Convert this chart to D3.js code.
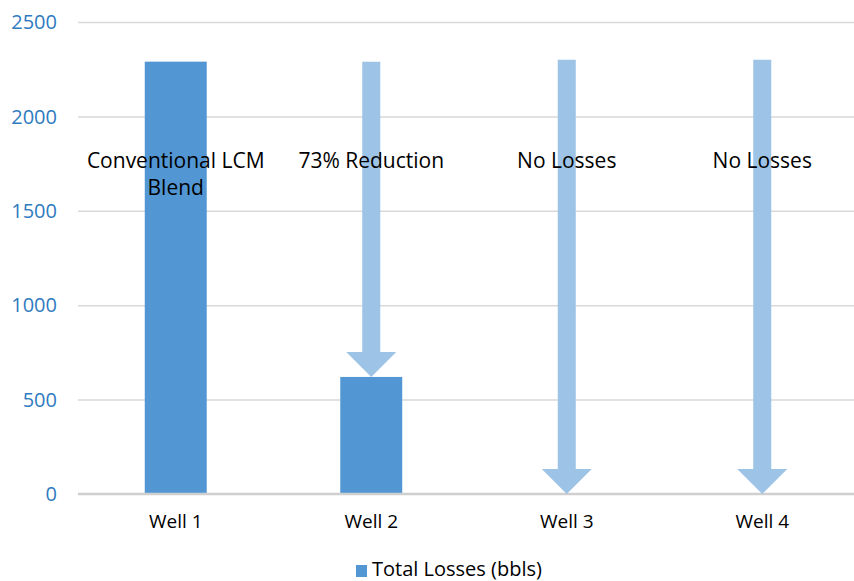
<!DOCTYPE html>
<meta charset="utf-8">
<style>
body { margin: 0; background: #fff; }
svg { font-family: "Open Sans", sans-serif; }
.grid line { stroke: #d9d9d9; stroke-width: 1.5px; }
.grid path { stroke-width: 0; }
</style>
<body>
<script src="https://d3js.org/d3.v7.min.js"></script>
<script>

// data
var wells = ["Well 1", "Well 2", "Well 3", "Well 4"];
var losses = [2290, 620, 0, 0];
var yTicks = [0, 500, 1000, 1500, 2000, 2500];
var notes = [["Conventional LCM", "Blend"], ["73% Reduction"], ["No Losses"], ["No Losses"]];
// arrows: which well, where it starts and where its tip lands
var arrowWells = ["Well 2", "Well 3", "Well 4"];
var arrowTop = [2290, 2300, 2300];
var arrowTip = [620, 0, 0];
var seriesName = "Total Losses (bbls)";

var W = 854, H = 581;
var margin = {top: 22, right: -6, bottom: 87, left: 78},
    width = W - margin.left - margin.right,
    height = H - margin.top - margin.bottom;

var svg = d3.select("body").append("svg")
    .attr("width", W)
    .attr("height", H);

var g = svg.append("g")
    .attr("transform", "translate(" + margin.left + "," + margin.top + ")");

var x = d3.scaleBand().domain(wells).range([0, width])
    .paddingInner(0.683).paddingOuter(0.3415);
var y = d3.scaleLinear().domain([0, 2500]).range([height, 0]);

// gridlines
g.append("g")
    .attr("class", "grid")
    .call(d3.axisLeft(y).tickValues(yTicks.slice(1)).tickSize(-width).tickFormat(""));

// y labels
g.selectAll(".ylab")
    .data(yTicks)
  .enter().append("text")
    .attr("x", -21)
    .attr("y", function(d) { return y(d); })
    .attr("dy", "0.36em")
    .attr("text-anchor", "end")
    .style("font-size", "20px")
    .style("fill", "#2f7bc0")
    .text(function(d) { return d; });

// bars
g.selectAll(".bar")
    .data(losses)
  .enter().append("rect")
    .attr("x", function(d, i) { return x(wells[i]); })
    .attr("y", function(d) { return y(d); })
    .attr("width", x.bandwidth())
    .attr("height", function(d) { return height - y(d); })
    .style("fill", "#5297d4");

// zero axis line
g.append("line")
    .attr("x1", 0).attr("x2", width)
    .attr("y1", y(0)).attr("y2", y(0))
    .style("stroke", "#cfcfcf")
    .style("stroke-width", 2.5);

// arrows
var shaft = 9, head = 25, headH = 25;
g.selectAll(".arrow")
    .data(arrowWells)
  .enter().append("path")
    .attr("d", function(d, i) {
      var cx = x(d) + x.bandwidth() / 2,
          t = y(arrowTop[i]), b = y(arrowTip[i]), hs = b - headH;
      return "M" + (cx - shaft) + "," + t + "H" + (cx + shaft) + "V" + hs +
             "H" + (cx + head) + "L" + cx + "," + b + "L" + (cx - head) + "," + hs +
             "H" + (cx - shaft) + "Z";
    })
    .style("fill", "#9dc3e6");

// annotations
notes.forEach(function(lines, i) {
  var t = g.append("text")
      .attr("text-anchor", "middle")
      .style("font-size", "21px")
      .style("fill", "#000");
  lines.forEach(function(s, j) {
    t.append("tspan")
      .attr("x", x(wells[i]) + x.bandwidth() / 2)
      .attr("y", 146 + j * 27)
      .text(s);
  });
});

// x labels
g.selectAll(".xlab")
    .data(wells)
  .enter().append("text")
    .attr("x", function(d) { return x(d) + x.bandwidth() / 2; })
    .attr("y", height + 34)
    .attr("text-anchor", "middle")
    .style("font-size", "19px")
    .style("fill", "#000")
    .text(function(d) { return d; });

// legend
var lg = svg.append("g").attr("transform", "translate(356,565)");
lg.append("rect").attr("width", 11).attr("height", 12).style("fill", "#5297d4");
lg.append("text")
    .attr("x", 16).attr("y", 11)
    .style("font-size", "20px")
    .style("fill", "#000")
    .text(seriesName);

</script>
</body>
